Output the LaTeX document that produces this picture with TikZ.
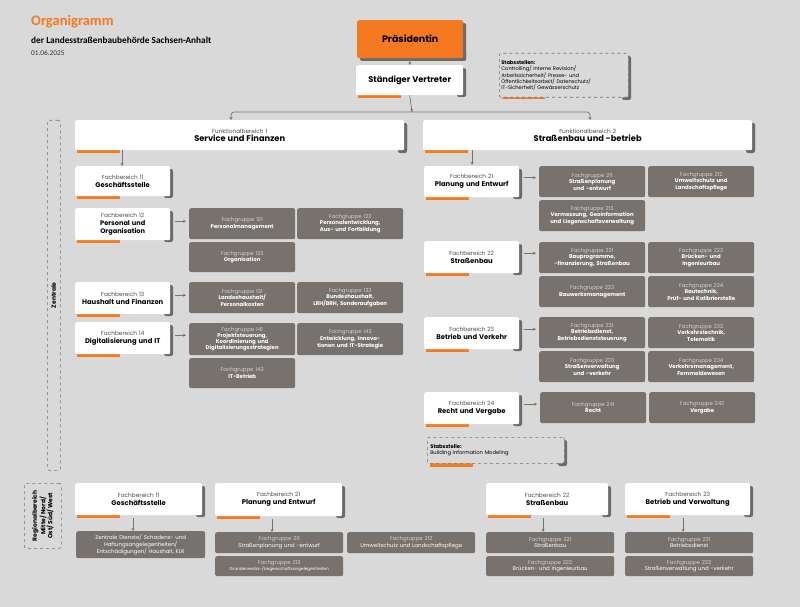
\documentclass[tikz,border=0pt]{standalone}
\usepackage{fontspec}
\setmainfont{Poppins}
\newfontfamily\tfont{Carlito}
\usetikzlibrary{arrows.meta}
\definecolor{bg}{HTML}{D9D9D9}
\definecolor{og}{HTML}{F47920}
\definecolor{dg}{HTML}{78726E}
\definecolor{sh}{HTML}{6E6A67}
\definecolor{lt}{HTML}{D6D2CE}
\tikzset{
 wb/.style={fill=white,rounded corners=2pt,anchor=north west,inner sep=1pt,align=center,font=\fontsize{5.8}{8}\selectfont},
 gb/.style={fill=dg,rounded corners=2pt,anchor=north west,inner sep=1pt,align=center,text=white,font=\fontsize{5.4}{6.6}\selectfont},
 arr/.style={draw=dg,line width=0.7pt,-{Stealth[length=3pt,width=3pt]}},
 dsh/.style={draw=dg,dashed,line width=0.6pt,rounded corners=2pt,fill=bg}
}
\newcommand\wbox[6]{%
 \fill[sh,rounded corners=2pt] (#4-6,#3+3) rectangle (#4+3,#5+2);
 \fill[og] (#2+2,#5) rectangle (#2+45,#5+3);
 \node[wb,minimum width={#4-#2},minimum height={#5-#3},text width={#4-#2-4}] (#1) at (#2,#3) {#6};}
\newcommand\gbox[6]{%
 \node[gb,minimum width={#4-#2},minimum height={#5-#3},text width={#4-#2-4}] (#1) at (#2,#3) {#6};}
\newcommand\fb[2]{{\color{black!70}#1}\\{\fontsize{6.8}{8}\selectfont\bfseries #2}}
\newcommand\fbb[2]{{\color{black!70}#1}\\{\fontsize{6.6}{7.6}\selectfont\bfseries #2\par}}
\newcommand\fg[2]{{\color{lt}Fachgruppe #1}\\{\bfseries #2}}
\newcommand\fgr[2]{{\color{lt}Fachgruppe #1}\\#2}
\begin{document}
\begin{tikzpicture}[x=1pt,y=-1pt]
\fill[bg] (0,0) rectangle (800,607);
\useasboundingbox (0,0) rectangle (800,607);
% title
\node[anchor=west,text=og,font=\tfont\fontsize{14.5}{16}\selectfont\bfseries,inner sep=0] (t1) at (31,22) {Organigramm};
\node[anchor=west,font=\tfont\fontsize{9.3}{11}\selectfont\bfseries,inner sep=0] (t2) at (31,40) {der Landesstraßenbaubehörde Sachsen-Anhalt};
\node[anchor=west,font=\tfont\fontsize{7.3}{8}\selectfont,text=black!80,inner sep=0] (t3) at (31,53) {01.06.2025};
% top
\fill[sh,rounded corners=2pt] (360,50) rectangle (466,61);
\fill[sh,rounded corners=2pt] (457,23) rectangle (466,61);
\node[fill=og,rounded corners=2pt,anchor=north west,minimum width=106,minimum height=38,font=\fontsize{9.5}{11}\selectfont\bfseries] (pr) at (357,20) {Präsidentin};
\wbox{sv}{356}{65}{463}{95}{{\fontsize{8.3}{10}\selectfont\bfseries Ständiger Vertreter}}
\fill[sh,rounded corners=2pt] (622,56) rectangle (631,100);
\fill[og] (502,95) rectangle (545,99);
\node[dsh,anchor=north west,minimum width=129,minimum height=44,text width=125,align=left,inner sep=2pt,font=\fontsize{5.1}{5.9}\selectfont] (stab) at (499,53) {{\bfseries Stabsstellen:}\\Controlling/ Interne Revision/\\Arbeitssicherheit/ Presse- und\\Öffentlichkeitsarbeit/ Datenschutz/\\IT-Sicherheit/ Gewässerschutz};
\draw[arr] (pr.south) -- (sv.north);
\fill[sh,rounded corners=2pt] (398,123) rectangle (407,153);
\fill[sh,rounded corners=2pt] (746,123) rectangle (755,153);
\wbox{f1}{75}{120}{404}{150}{{\color{black!70}Funktionalbereich 1}\\{\fontsize{8.3}{10}\selectfont\bfseries Service und Finanzen}}
\wbox{f2}{423}{120}{752}{150}{{\color{black!70}Funktionalbereich 2}\\{\fontsize{8.3}{10}\selectfont\bfseries Straßenbau und -betrieb}}
\coordinate (j) at (412,112);
\draw[arr] (sv.south) -- (j);
\draw[arr,rounded corners=3pt] (j) -| (231,120);
\draw[arr,rounded corners=3pt] (j) -| (590,120);
% Zentrale
\node[dsh,anchor=north west,minimum width=13,minimum height=350] (ze) at (47,120) {};
\node[rotate=90,font=\fontsize{6}{7}\selectfont\bfseries] (zt) at (ze.center) {Zentrale};
% left column
\wbox{b11}{75}{166}{170}{196}{\fb{Fachbereich 11}{Geschäftsstelle}}
\wbox{b12}{75}{208}{170}{240}{\fbb{Fachbereich 12}{Personal und\\Organisation}}
\wbox{b13}{75}{282}{170}{314}{\fb{Fachbereich 13}{Haushalt und Finanzen}}
\wbox{b14}{75}{322}{170}{354}{\fb{Fachbereich 14}{Digitalisierung und IT}}
\draw[arr] (122,150) -- (b11.north-|122,0);
\gbox{g121}{189}{208}{295}{239}{\fg{121}{Personalmanagement}}
\gbox{g122}{297}{208}{403}{239}{\fg{122}{Personalentwicklung,\\Aus- und Fortbildung}}
\gbox{g123}{189}{242}{295}{272}{\fg{123}{Organisation}}
\gbox{g131}{189}{282}{295}{313}{\fg{131}{Landeshaushalt/\\Personalkosten}}
\gbox{g132}{297}{282}{403}{313}{\fg{132}{Bundeshaushalt,\\LRH/BRH, Sonderaufgaben}}
\gbox{g141}{189}{323}{295}{355}{{\fontsize{5.4}{5.9}\selectfont\fg{141}{Projektsteuerung,\\Koordinierung und\\Digitalisierungsstrategien}\par}}
\gbox{g142}{297}{323}{403}{355}{\fg{142}{Entwicklung, Innova-\\tionen und IT-Strategie}}
\gbox{g143}{189}{358}{295}{388}{\fg{143}{IT-Betrieb}}
\foreach \a/\b in {b12/g121,b13/g131,b14/g141}
 \draw[arr] ([xshift=5pt,yshift=3pt]\a.east) -- ([xshift=-3pt,yshift=3pt]\b.west|-\a.east);
% right column
\draw[arr] (472,150) -- (472,165);
\wbox{b21}{424}{166}{519}{197}{\fb{Fachbereich 21}{Planung und Entwurf}}
\wbox{b22}{424}{241}{519}{273}{\fb{Fachbereich 22}{Straßenbau}}
\wbox{b23}{424}{317}{519}{349}{\fb{Fachbereich 23}{Betrieb und Verkehr}}
\wbox{b24}{424}{392}{519}{424}{\fb{Fachbereich 24}{Recht und Vergabe}}
\gbox{g211}{539}{166}{645}{197}{\fg{211}{Straßenplanung\\und -entwurf}}
\gbox{g212}{648}{166}{754}{197}{\fg{212}{Umweltschutz und\\Landschaftspflege}}
\gbox{g213}{539}{200}{645}{231}{\fg{213}{Vermessung, Geoinformation\\und Liegenschaftsverwaltung}}
\gbox{g221}{539}{242}{645}{273}{\fg{221}{Bauprogramme,\\-finanzierung, Straßenbau}}
\gbox{g222}{648}{242}{754}{273}{\fg{222}{Brücken- und\\Ingenieurbau}}
\gbox{g223}{539}{276}{645}{307}{\fg{223}{Bauwerksmanagement}}
\gbox{g224}{648}{276}{754}{307}{\fg{224}{Bautechnik,\\Prüf- und Kalibrierstelle}}
\gbox{g231}{539}{317}{645}{348}{\fg{231}{Betriebsdienst,\\Betriebsdienststeuerung}}
\gbox{g232}{648}{317}{754}{348}{\fg{232}{Verkehrstechnik,\\Telematik}}
\gbox{g233}{539}{351}{645}{382}{\fg{233}{Straßenverwaltung\\und -verkehr}}
\gbox{g234}{648}{351}{754}{382}{\fg{234}{Verkehrsmanagement,\\Fernmeldewesen}}
\gbox{g241}{540}{392}{646}{423}{\fg{241}{Recht}}
\gbox{g242}{649}{392}{755}{423}{\fg{242}{Vergabe}}
\foreach \a/\b in {b21/g211,b22/g221,b23/g231,b24/g241}
 \draw[arr] ([xshift=5pt,yshift=4pt]\a.east) -- ([xshift=-3pt,yshift=4pt]\b.west|-\a.east);
\fill[sh,rounded corners=2pt] (558,440) rectangle (567,466);
\fill[og] (430,463) rectangle (473,467);
\node[dsh,anchor=north west,minimum width=137,minimum height=26,text width=131,align=left,inner sep=3pt,font=\fontsize{5.2}{6.2}\selectfont] (bim) at (427,437) {{\bfseries Stabsstelle:}\\Building Information Modeling};
% regional
\node[dsh,anchor=north west,minimum width=37,minimum height=65] (rg) at (24,483) {};
\node[rotate=90,align=center,font=\fontsize{6}{7}\selectfont\bfseries] (rt) at (rg.center) {Regionalbereich\\Mitte/ Nord/\\Ost/ Süd/ West};
\wbox{r11}{75}{483}{202}{515}{\fb{Fachbereich 11}{Geschäftsstelle}}
\wbox{r21}{215}{483}{342}{516}{\fb{Fachbereich 21}{Planung und Entwurf}}
\wbox{r22}{486}{483}{608}{515}{\fb{Fachbereich 22}{Straßenbau}}
\wbox{r23}{625}{483}{750}{515}{\fb{Fachbereich 23}{Betrieb und Verwaltung}}
\gbox{s11}{76}{531}{205}{558}{Zentrale Dienste/ Schadens- und\\Haftungsangelegenheiten/\\Entschädigungen/ Haushalt, KLR}
\gbox{s211}{215}{532}{343}{553}{\fgr{211}{Straßenplanung und -entwurf}}
\gbox{s212}{347}{532}{475}{553}{\fgr{212}{Umweltschutz und Landschaftspflege}}
\gbox{s213}{215}{556}{343}{576}{\fgr{213}{{\fontsize{4.2}{5}\selectfont Grunderwerbs-/Liegenschaftsangelegenheiten}}}
\gbox{s221}{486}{532}{614}{553}{\fgr{221}{Straßenbau}}
\gbox{s222}{486}{556}{614}{576}{\fgr{222}{Brücken- und Ingenieurbau}}
\gbox{s231}{625}{532}{753}{553}{\fgr{231}{Betriebsdienst}}
\gbox{s232}{625}{556}{753}{576}{\fgr{232}{Straßenverwatlung und -verkehr}}
\draw[arr] (133,518) -- (s11.north-|133,0);
\draw[arr] (272,519) -- (s211.north-|272,0);
\draw[arr] (543,518) -- (s221.north-|543,0);
\draw[arr] (683,518) -- (s231.north-|683,0);
\end{tikzpicture}
\end{document}
